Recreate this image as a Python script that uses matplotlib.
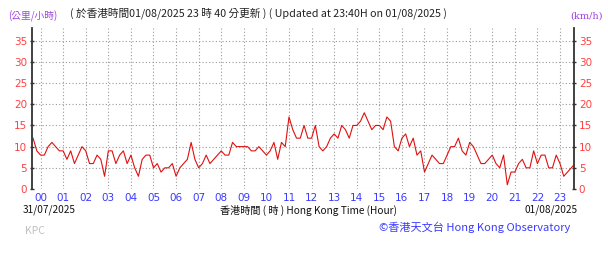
import numpy as np
import matplotlib
matplotlib.use('Agg')
import matplotlib.pyplot as plt

plt.rcParams['font.family'] = ['Noto Sans CJK TC', 'DejaVu Sans']

# 10-minute mean wind speed (km/h), 23:40 of 31/07 to 23:40 of 01/08
prev_day = [12, 9]
hourly_speeds = [
    [8, 8, 10, 11, 10, 9],      # 00
    [9, 7, 9, 6, 8, 10],        # 01
    [9, 6, 6, 8, 7, 3],         # 02
    [9, 9, 6, 8, 9, 6],         # 03
    [8, 5, 3, 7, 8, 8],         # 04
    [5, 6, 4, 5, 5, 6],         # 05
    [3, 5, 6, 7, 11, 7],        # 06
    [5, 6, 8, 6, 7, 8],         # 07
    [9, 8, 8, 11, 10, 10],      # 08
    [10, 10, 9, 9, 10, 9],      # 09
    [8, 9, 11, 7, 11, 10],      # 10
    [17, 14, 12, 12, 15, 12],   # 11
    [12, 15, 10, 9, 10, 12],    # 12
    [13, 12, 15, 14, 12, 15],   # 13
    [15, 16, 18, 16, 14, 15],   # 14
    [15, 14, 17, 16, 10, 9],    # 15
    [12, 13, 10, 12, 8, 9],     # 16
    [4, 6, 8, 7, 6, 6],         # 17
    [8, 10, 10, 12, 9, 8],      # 18
    [11, 10, 8, 6, 6, 7],       # 19
    [8, 6, 5, 8, 1, 4],         # 20
    [4, 6, 7, 5, 5, 9],         # 21
    [6, 8, 8, 5, 5, 8],         # 22
    [6, 3, 4, 5, 6],            # 23 (to 23:40)
]
hour_labels = ['%02d' % h for h in range(24)]
y_ticks = [0, 5, 10, 15, 20, 25, 30, 35]

speeds = np.array(prev_day + [v for hr in hourly_speeds for v in hr], dtype=float)
times = -2 / 6 + np.arange(len(speeds)) / 6.0

RED = '#ff4040'
BLUE = '#3a3aff'
PURPLE = '#a040e0'

fig = plt.figure(figsize=(6.08, 2.72), dpi=100)
ax = fig.add_axes([32 / 608, 1 - 189 / 272, (574 - 32) / 608, (189 - 28) / 272])

ax.plot(times, speeds, color='#e01010', linewidth=0.8)

ax.set_xlim(-0.38, 23.62)
ax.set_ylim(0, 38)
ax.set_xticks(range(24))
ax.set_xticklabels(hour_labels, color=BLUE, fontsize=7.5, family=['DejaVu Sans'])
ax.set_yticks(y_ticks)
ax.tick_params(axis='x', length=0, pad=3)
ax.tick_params(axis='y', colors='#333333', labelcolor=RED, labelsize=7.5,
               length=3, width=1, direction='inout', left=True, right=True,
               labelleft=True, labelright=True, pad=2)
for lab in ax.get_yticklabels():
    lab.set_family(['DejaVu Sans'])

ax.grid(True, color='#999999', linestyle=(0, (1, 2)), linewidth=0.8)
for side in ['top', 'bottom']:
    ax.spines[side].set_visible(False)
for side in ['left', 'right']:
    ax.spines[side].set_color('#333333')
    ax.spines[side].set_linewidth(1.3)

fig.text(8 / 608, 1 - 16 / 272, '(公里/小時)', color=PURPLE, fontsize=7,
         va='center', ha='left')
fig.text(70 / 608, 1 - 13 / 272,
         '( 於香港時間01/08/2025 23 時 40 分更新 ) ( Updated at 23:40H on 01/08/2025 )',
         color='#222222', fontsize=7.7, va='center', ha='left')
fig.text(603 / 608, 1 - 16 / 272, '(km/h)', color=PURPLE, fontsize=7,
         va='center', ha='right', family=['DejaVu Serif'])

fig.text(23 / 608, 1 - 210 / 272, '31/07/2025', color='#111111', fontsize=7.3,
         va='center', ha='left')
fig.text(308 / 608, 1 - 210 / 272, '香港時間 ( 時 ) Hong Kong Time (Hour)',
         color='#111111', fontsize=7.3, va='center', ha='center')
fig.text(578 / 608, 1 - 210 / 272, '01/08/2025', color='#111111', fontsize=7.3,
         va='center', ha='right')
fig.text(25 / 608, 1 - 231 / 272, 'KPC', color='#c0c0c0', fontsize=7.5,
         va='center', ha='left')
fig.text(570 / 608, 1 - 227 / 272, '©香港天文台 Hong Kong Observatory',
         color=BLUE, fontsize=8, va='center', ha='right')

fig.savefig('out.png', dpi=100)
